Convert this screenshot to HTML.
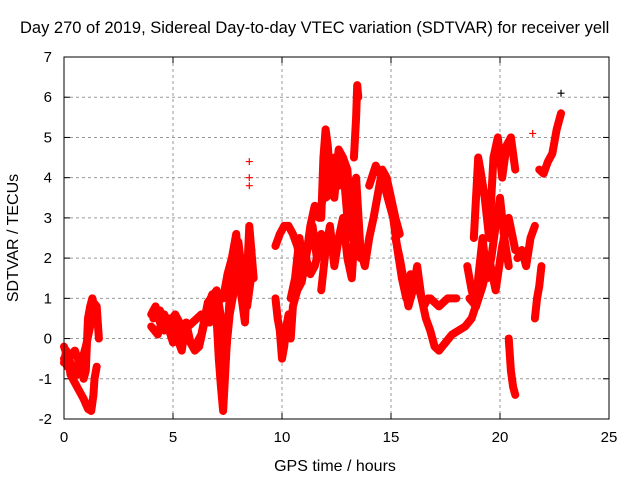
<!DOCTYPE html>
<html><head><meta charset="utf-8"><style>
body{margin:0;background:#fff;}
svg{display:block;font-family:"Liberation Sans",sans-serif;}
</style></head><body>
<svg id="chart" width="640" height="480">
<rect width="640" height="480" fill="#fff"/>
<text x="20" y="33" font-size="16.5">Day 270 of 2019, Sidereal Day-to-day VTEC variation (SDTVAR) for receiver yell</text>
<g id="grid"></g><g id="ticks"></g><g id="data"></g>
<rect x="64" y="57" width="545" height="362" fill="none" stroke="#000" stroke-width="1"/>
<text x="335" y="471" font-size="16" text-anchor="middle">GPS time / hours</text>
<text transform="translate(18,238) rotate(-90)" font-size="16" text-anchor="middle">SDTVAR / TECUs</text>
</svg>
<script>
const xTicks=[0,5,10,15,20,25];
const yTicks=[-2,-1,0,1,2,3,4,5,6,7];
const trackTimes=[
[0,0.1,0.2,0.3,0.5,0.7,0.9,1.1,1.25,1.35,1.4,1.5],
[0,0.2,0.4,0.6,0.8,1.0,1.2,1.35,1.5,1.6],
[0,0.15,0.3,0.5,0.7,0.9,1.0,1.1,1.2,1.3,1.45],
[4,4.2,4.4,4.6,4.8,5.0,5.2,5.4,5.6,5.8,6.0,6.2,6.4,6.6,6.8,7.0],
[4,4.3,4.6,5,5.3,5.6,6,6.3,6.6,7,7.3],
[4.1,4.4,4.7,5.1,5.5,5.9,6.3,6.7,7.1],
[7,7.1,7.2,7.3,7.4,7.5,7.6,7.8,8.0,8.2,8.4,8.6],
[7.3,7.5,7.7,7.9,8.1,8.3,8.5,8.7],
[6.6,6.8,7.0,7.2,7.4,7.6,7.8,8.0,8.2,8.4,8.6],
[9.7,9.8,9.9,10.0,10.1,10.2,10.3,10.4,10.5,10.7,10.9,11.1,11.3,11.5,11.7],
[9.7,9.9,10.1,10.3,10.5,10.7,10.9,11.1,11.3,11.5,11.7,11.9,12.1],
[10.4,10.6,10.8,11.0,11.2,11.4,11.6,11.8],
[11.8,11.9,12.0,12.1,12.2,12.4,12.6,12.8,13.0,13.2,13.4,13.6],
[11.8,12.0,12.2,12.4,12.6,12.8,13.0,13.2,13.4],
[12.0,12.2,12.4,12.6,12.8,13.0,13.2],
[13.0,13.2,13.4,13.6,13.8,14.0,14.2,14.4,14.6,14.8,15.0,15.2,15.4],
[13.3,13.4,13.45,13.5],
[14.0,14.3,14.6,14.9,15.1,15.3],
[15.2,15.4,15.6,15.8,16.0,16.2,16.4,16.6,16.8,17.0,17.2],
[15.3,15.5,15.7,15.9,16.1,16.3,16.5,16.7],
[17.2,17.5,17.8,18.1,18.4,18.7,19.0],
[16.8,17.2,17.6,18.0],
[18.5,18.7,18.9,19.0,19.2,19.4,19.6,19.8,20.0,20.2,20.4],
[18.8,18.9,19.0,19.1,19.3,19.5,19.7,19.9,20.1,20.3,20.5,20.7],
[18.6,18.9,19.2,19.5,19.8,20.1,20.4,20.7],
[20.4,20.5,20.6,20.7],
[20.8,21.0,21.2,21.4,21.6],
[21.6,21.7,21.8,21.9],
[21.8,22.0,22.2,22.4,22.6,22.8]
];
const trackValues=[
[-0.6,-0.3,-0.5,-0.9,-1.1,-1.3,-1.5,-1.75,-1.8,-1.4,-1.0,-0.7],
[-0.2,-0.5,-0.7,-0.9,-0.6,-0.2,0.3,0.9,0.8,0.0],
[-0.5,-0.7,-0.4,-0.3,-0.6,-1.0,-0.8,0.5,0.8,1.0,0.6],
[0.6,0.8,0.4,0.2,0.5,0.3,0.0,-0.3,0.4,-0.1,-0.3,-0.2,0.3,0.8,1.1,0.6],
[0.3,0.1,0.6,-0.1,0.3,0.0,-0.2,0.1,0.9,1.2,0.2],
[0.5,0.7,0.3,0.6,0.2,0.4,0.6,0.4,0.9],
[0.5,-0.5,-1.2,-1.8,-0.8,0.2,1.0,1.8,2.4,1.5,0.8,1.6],
[1.0,1.6,2.0,2.6,1.2,0.4,2.8,1.5],
[0.4,0.9,1.0,0.2,-0.5,0.6,1.2,2.0,1.0,1.8,2.2],
[1.0,0.5,0.2,-0.5,-0.2,0.3,0.6,0.0,0.8,1.2,1.4,2.0,1.6,1.8,2.2],
[2.3,2.6,2.8,2.8,2.6,2.3,1.8,2.0,2.8,3.3,3.0,3.6,4.0],
[1.0,1.5,2.5,1.8,2.3,2.8,2.0,2.6],
[3.0,4.5,5.2,4.8,4.0,3.5,4.7,4.5,4.2,2.5,3.0,2.0],
[1.2,2.2,2.8,1.8,2.5,3.0,2.0,1.5,3.2],
[3.5,3.6,4.5,3.8,4.3,3.0,3.8],
[3.5,3.2,4.0,2.2,1.8,2.5,3.0,3.6,4.2,4.0,3.5,3.0,2.6],
[4.5,5.5,6.3,6.0],
[3.8,4.3,4.0,3.4,3.0,2.2],
[2.5,2.0,1.4,0.8,1.2,1.8,1.0,0.5,0.2,-0.2,-0.3],
[2.2,1.5,1.0,1.6,1.4,1.2,0.8,1.0],
[-0.3,-0.1,0.1,0.2,0.3,0.5,1.0],
[1.0,0.8,1.0,1.0],
[1.8,1.2,0.8,1.5,2.5,1.5,2.0,2.8,3.5,2.5,1.8],
[2.5,3.5,4.5,4.2,3.5,2.5,4.5,5.0,4.0,4.8,5.0,4.2],
[1.0,0.8,1.3,2.0,1.2,2.3,3.0,2.2],
[0.0,-0.8,-1.2,-1.4],
[2.0,2.2,1.8,2.5,2.8],
[0.5,1.0,1.3,1.8],
[4.2,4.1,4.4,4.6,5.2,5.6]
];
const outlierTimes=[8.5,8.5,8.5,22.8,21.5];
const outlierValues=[3.8,4.0,4.4,6.1,5.1];

const X=t=>64+t*545/25;
const Y=v=>419-(v+2)*362/9;
const NS="http://www.w3.org/2000/svg";
const grid=document.getElementById('grid'),ticks=document.getElementById('ticks'),data=document.getElementById('data');
function mk(tag,attrs,parent){const e=document.createElementNS(NS,tag);for(const k in attrs)e.setAttribute(k,attrs[k]);parent.appendChild(e);return e;}
xTicks.forEach(t=>{
  const x=X(t);
  if(t>0&&t<25){const g=mk('line',{x1:x,x2:x,y1:57,y2:419,stroke:'#999','stroke-dasharray':'3,3'},grid);
  
  }
  mk('line',{x1:x,x2:x,y1:419,y2:413,stroke:'#000'},ticks);
  mk('line',{x1:x,x2:x,y1:57,y2:63,stroke:'#000'},ticks);
  const l=mk('text',{x:x,y:442,'font-size':15,'text-anchor':'middle'},ticks);l.textContent=t;
  
  
});
yTicks.forEach(v=>{
  const y=Y(v);
  if(v>-2&&v<7){const g=mk('line',{x1:64,x2:609,y1:y,y2:y,stroke:'#999','stroke-dasharray':'3,3'},grid);
  
  }
  mk('line',{x1:64,x2:70,y1:y,y2:y,stroke:'#000'},ticks);
  mk('line',{x1:603,x2:609,y1:y,y2:y,stroke:'#000'},ticks);
  const l=mk('text',{x:52,y:y+5,'font-size':15,'text-anchor':'end'},ticks);l.textContent=v;
  
  
});
function plus(x,y,c,parent){
  const p=mk('path',{d:`M${x-3.5},${y}h7M${x},${y-3.5}v7`,stroke:c,'stroke-width':1.2},parent);
  
  
}
trackTimes.forEach((ts,i)=>{
  const vs=trackValues[i];
  const pts=ts.map((t,j)=>X(t)+','+Y(vs[j])).join(' ');
  const pl=mk('polyline',{points:pts,fill:'none',stroke:'#f00','stroke-width':8,'stroke-linejoin':'round','stroke-linecap':'round'},data);
  
  
  ts.forEach((t,j)=>plus(X(t),Y(vs[j]),'#f00',data));
});
outlierTimes.forEach((t,i)=>plus(X(t),Y(outlierValues[i]),i===3?'#000':'#f00',data));
</script>
</body></html>
